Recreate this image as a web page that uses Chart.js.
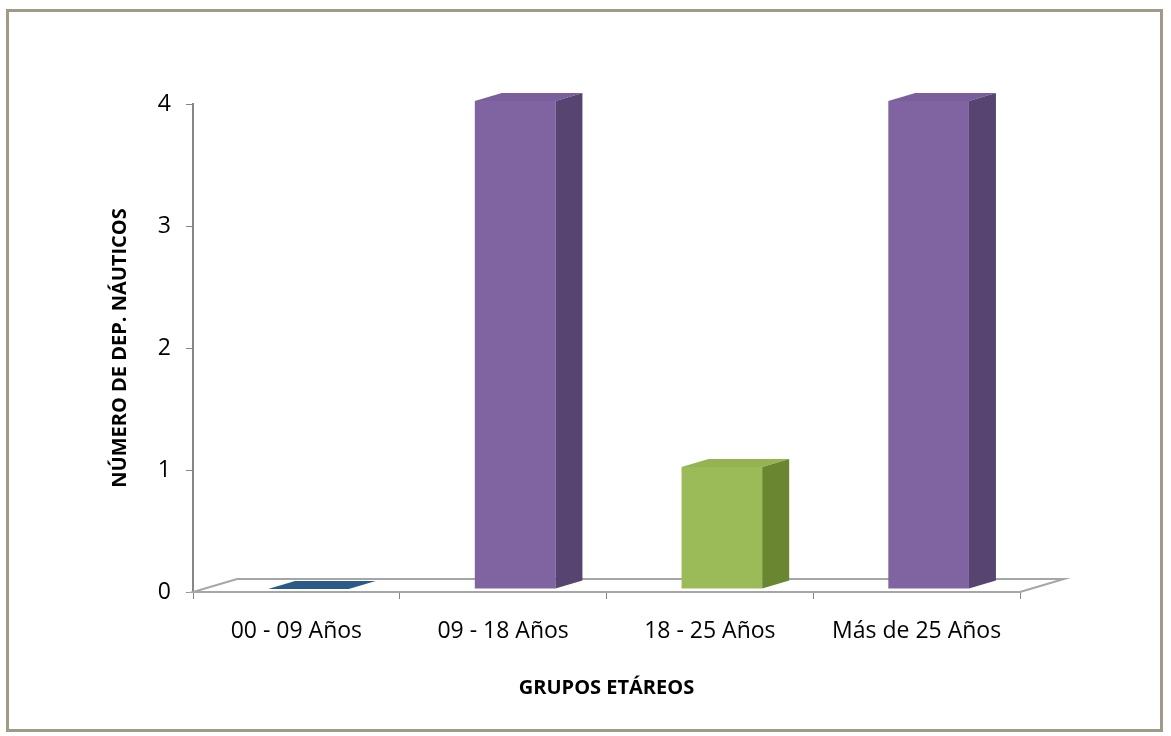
<!DOCTYPE html>
<html>
<head>
<meta charset="utf-8">
<script src="https://cdn.jsdelivr.net/npm/chart.js@4.4.0/dist/chart.umd.min.js"></script>
<style>
  body { margin: 0; background: #fff; }
  #wrap { position: relative; width: 1171px; height: 736px; }
  #frame { position: absolute; left: 6px; top: 9px; width: 1151px; height: 717px; border: 3px solid #a09a86; pointer-events: none; }
</style>
</head>
<body>
<div id="wrap">
  <canvas id="chart-grupos" width="1171" height="736"></canvas>
  <div id="frame"></div>
</div>
<script>
const categorias = ["00 - 09 Años", "09 - 18 Años", "18 - 25 Años", "Más de 25 Años"];
const deportistas = [0, 4, 1, 4];
const colorFrente = ["#1f4e79", "#8064a2", "#9bbb59", "#8064a2"];
const colorLado = ["#17385a", "#584470", "#6a8631", "#584470"];
const colorTapa = ["#2a5a87", "#7a5e9d", "#93b451", "#7a5e9d"];
const ticksY = [0, 1, 2, 3, 4];

const SHIFT = 12;   // bars sit a bit back in the depth
const DX = 27, DY = -8; // bar depth
const FDX = 44, FDY = -13; // floor depth

// piso 3D + caras laterales / superiores de las barras
const barras3d = {
    id: "barras3d",
    beforeDatasetsDraw(chart) {
        const ctx = chart.ctx;
        const a = chart.chartArea;
        ctx.save();
        ctx.beginPath();
        ctx.moveTo(a.left, a.bottom);
        ctx.lineTo(a.right, a.bottom);
        ctx.lineTo(a.right + FDX, a.bottom + FDY);
        ctx.lineTo(a.left + FDX, a.bottom + FDY);
        ctx.closePath();
        ctx.fillStyle = "#ffffff";
        ctx.fill();
        ctx.strokeStyle = "#a6a6a6";
        ctx.lineWidth = 2;
        ctx.stroke();
        ctx.restore();
        ctx.save();
        ctx.translate(SHIFT, -3);
    },
    afterDatasetsDraw(chart) {
        const ctx = chart.ctx;
        const meta = chart.getDatasetMeta(0);
        meta.data.forEach((bar, i) => {
            const l = bar.x - bar.width / 2, r = bar.x + bar.width / 2;
            const top = bar.y, base = bar.base;
            // tapa
            ctx.beginPath();
            ctx.moveTo(l, top);
            ctx.lineTo(r, top);
            ctx.lineTo(r + DX, top + DY);
            ctx.lineTo(l + DX, top + DY);
            ctx.closePath();
            ctx.fillStyle = colorTapa[i];
            ctx.fill();
            // lado
            if (base - top > 0) {
                ctx.beginPath();
                ctx.moveTo(r, top);
                ctx.lineTo(r + DX, top + DY);
                ctx.lineTo(r + DX, base + DY);
                ctx.lineTo(r, base);
                ctx.closePath();
                ctx.fillStyle = colorLado[i];
                ctx.fill();
            }
        });
        ctx.restore();
    }
};

new Chart(document.getElementById("chart-grupos"), {
    type: "bar",
    data: {
        labels: categorias,
        datasets: [{
            data: deportistas,
            backgroundColor: colorFrente,
            borderWidth: 0,
            categoryPercentage: 1,
            barPercentage: 0.39
        }]
    },
    options: {
        responsive: false,
        animation: false,
        events: [],
        layout: { padding: { top: 104, right: 151, left: 0, bottom: 0 } },
        plugins: { legend: { display: false }, tooltip: { enabled: false } },
        scales: {
            x: {
                afterFit: s => { s.height = 144; },
                border: { display: false },
                grid: { drawOnChartArea: false, color: "#868686", tickLength: 7, offset: true },
                ticks: { color: "#000", font: { family: "Open Sans", size: 23 }, padding: 19 },
                title: { display: true, text: "GRUPOS ETÁREOS", color: "#000",
                         font: { family: "Open Sans", size: 20, weight: "bold" }, padding: { top: 0, bottom: 36 } }
            },
            y: {
                min: 0, max: 4,
                afterFit: s => { s.width = 193; },
                afterBuildTicks: s => { s.ticks = ticksY.map(v => ({ value: v })); },
                border: { display: true, color: "#868686", width: 2 },
                grid: { drawOnChartArea: false, color: "#868686", tickLength: 7 },
                ticks: { color: "#000", font: { family: "Open Sans", size: 23 }, padding: 15 },
                title: { display: true, text: "NÚMERO DE DEP. NÁUTICOS", color: "#000",
                         font: { family: "Open Sans", size: 20, weight: "bold" }, padding: { top: 108, bottom: 0 } }
            }
        }
    },
    plugins: [barras3d]
});
</script>
</body>
</html>
